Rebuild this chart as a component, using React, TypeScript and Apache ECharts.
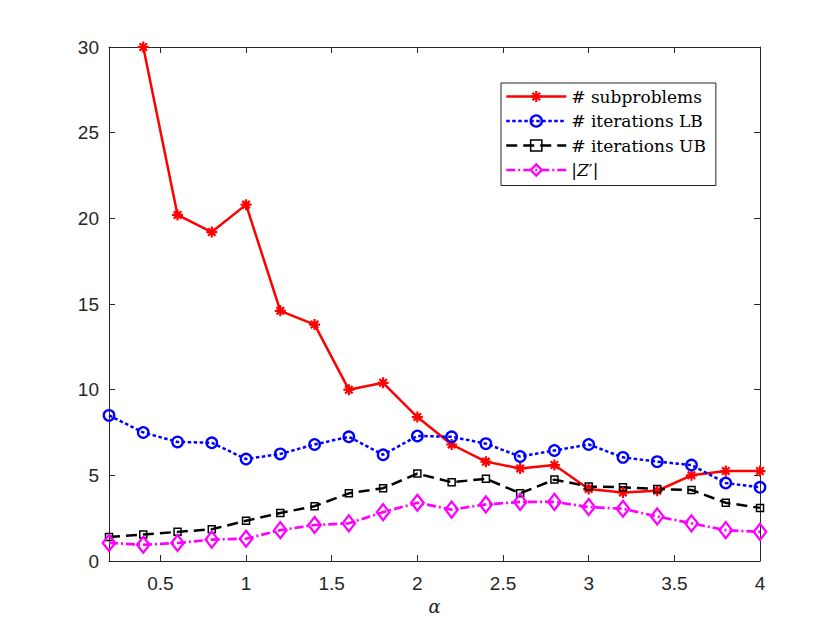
import React, { useEffect, useRef } from "react";
import * as echarts from "echarts";

// alpha sweep and the four measured quantities
const alpha = [0.2, 0.4, 0.6, 0.8, 1.0, 1.2, 1.4, 1.6, 1.8, 2.0, 2.2, 2.4, 2.6, 2.8, 3.0, 3.2, 3.4, 3.6, 3.8, 4.0];
const subproblems = [null, 30, 20.2, 19.2, 20.8, 14.6, 13.8, 10.0, 10.4, 8.4, 6.8, 5.8, 5.4, 5.6, 4.2, 4.0, 4.1, 5.0, 5.25, 5.25];
const iterationsLB = [8.5, 7.5, 6.95, 6.9, 5.95, 6.25, 6.8, 7.25, 6.2, 7.3, 7.25, 6.85, 6.1, 6.45, 6.8, 6.05, 5.8, 5.6, 4.55, 4.3];
const iterationsUB = [1.4, 1.55, 1.7, 1.85, 2.35, 2.8, 3.2, 3.95, 4.25, 5.1, 4.6, 4.8, 3.95, 4.75, 4.35, 4.3, 4.2, 4.15, 3.4, 3.1];
const zPrime = [1.05, 0.95, 1.05, 1.25, 1.3, 1.8, 2.1, 2.2, 2.85, 3.4, 3.0, 3.3, 3.45, 3.45, 3.15, 3.05, 2.6, 2.2, 1.8, 1.7];

const xTicks = [0.5, 1, 1.5, 2, 2.5, 3, 3.5, 4];
const seriesNames = ["# subproblems", "# iterations LB", "# iterations UB", "|Z′|"];

const ASTERISK = "path://M5 0 L5 10 M0 5 L10 5 M1.6 1.6 L8.4 8.4 M8.4 1.6 L1.6 8.4";
const AXIS_COLOR = "#262626";

const pairs = (ys: (number | null)[]) => alpha.map((x, i) => [x, ys[i]]);

export default function App() {
  const ref = useRef<HTMLDivElement>(null);

  useEffect(() => {
    if (!ref.current) return;
    const chart = echarts.init(ref.current, null, { renderer: "svg" });

    const styles = [
      { color: "#ff0000", dash: "solid" as any, width: 2.5, symbol: ASTERISK, size: 11, fill: "#ff0000", border: 2.2 },
      { color: "#0000ff", dash: [3.5, 2.5], width: 2.5, symbol: "circle", size: 10.5, fill: "transparent", border: 2.3 },
      { color: "#000000", dash: [11, 6], width: 2.5, symbol: "rect", size: 7, fill: "transparent", border: 1.5 },
      { color: "#ff00ff", dash: [9, 3, 2, 3], width: 2.7, symbol: "diamond", size: [12.5, 16], fill: "transparent", border: 2.3 },
    ];
    const values = [subproblems, iterationsLB, iterationsUB, zPrime];

    const commonAxis = {
      axisLine: { show: true, onZero: false, lineStyle: { color: AXIS_COLOR, width: 1 } },
      splitLine: { show: false },
    };

    const tickFont = { fontFamily: "Liberation Sans, Arial, sans-serif", fontSize: 19, color: AXIS_COLOR };

    chart.setOption({
      animation: false,
      backgroundColor: "#ffffff",
      grid: { left: 109, top: 47, right: 80, bottom: 69, containLabel: false },
      legend: {
        orient: "vertical",
        left: 501,
        top: 83,
        padding: [5, 10, 7, 4],
        itemGap: 7.5,
        itemWidth: 60,
        itemHeight: 14,
        selectedMode: false,
        backgroundColor: "#ffffff",
        borderColor: AXIS_COLOR,
        borderWidth: 1,
        borderRadius: 0,
        textStyle: {
          fontFamily: "DejaVu Serif",
          fontSize: 17,
          color: "#000000",
          rich: {
            i: { fontFamily: "DejaVu Serif", fontStyle: "italic", fontSize: 17, color: "#000000" },
          },
        },
        formatter: (name: string) => (name === "|Z′|" ? "|{i|Z}′|" : name),
        data: seriesNames.map((name, i) => ({
          name,
          lineStyle: { color: styles[i].color, width: 2.5, type: styles[i].dash },
          itemStyle: { color: styles[i].fill, borderColor: styles[i].color, borderWidth: styles[i].border },
        })),
      },
      xAxis: [
        {
          ...commonAxis,
          type: "value",
          position: "bottom",
          min: 0.2,
          max: 4,
          name: "α",
          nameLocation: "middle",
          nameGap: 34,
          nameTextStyle: { fontFamily: "DejaVu Serif", fontStyle: "italic", fontSize: 18, color: AXIS_COLOR },
          axisTick: { show: true, inside: true, length: 6, customValues: xTicks, lineStyle: { color: AXIS_COLOR } },
          axisLabel: {
            ...tickFont,
            customValues: xTicks,
            margin: 13,
            formatter: (v: number) => String(v),
          },
        },
        {
          ...commonAxis,
          type: "value",
          position: "top",
          min: 0.2,
          max: 4,
          axisTick: { show: true, inside: true, length: 6, customValues: xTicks, lineStyle: { color: AXIS_COLOR } },
          axisLabel: { show: false },
        },
      ],
      yAxis: [
        {
          ...commonAxis,
          type: "value",
          position: "left",
          min: 0,
          max: 30,
          interval: 5,
          axisTick: { show: true, inside: true, length: 6, lineStyle: { color: AXIS_COLOR } },
          axisLabel: { ...tickFont, margin: 10 },
        },
        {
          ...commonAxis,
          type: "value",
          position: "right",
          min: 0,
          max: 30,
          interval: 5,
          axisTick: { show: true, inside: true, length: 6, lineStyle: { color: AXIS_COLOR } },
          axisLabel: { show: false },
        },
      ],
      series: seriesNames.map((name, i) => ({
        name,
        type: "line",
        xAxisIndex: 0,
        yAxisIndex: 0,
        data: pairs(values[i]),
        connectNulls: false,
        clip: true,
        color: styles[i].color,
        symbol: styles[i].symbol,
        symbolSize: styles[i].size,
        showAllSymbol: true,
        lineStyle: { color: styles[i].color, width: styles[i].width, type: styles[i].dash },
        itemStyle: { color: styles[i].fill, borderColor: styles[i].color, borderWidth: styles[i].border },
        emphasis: { disabled: true },
      })),
    });

    return () => chart.dispose();
  }, []);

  return (
    <div
      ref={ref}
      style={{ position: "fixed", left: 0, top: 0, width: 840, height: 630, background: "#ffffff" }}
    />
  );
}
